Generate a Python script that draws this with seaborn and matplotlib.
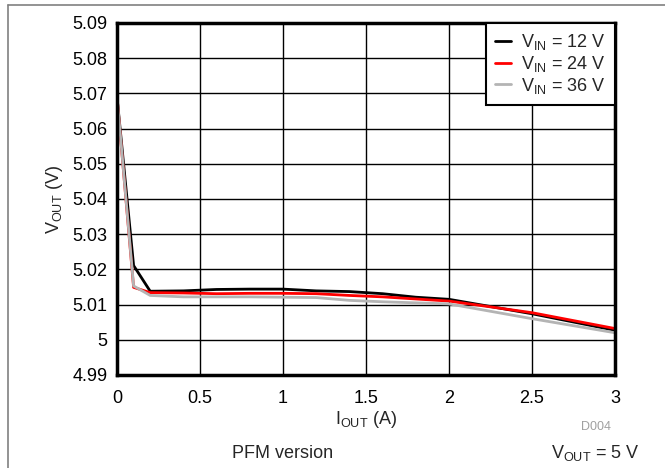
import matplotlib
matplotlib.use("Agg")
import matplotlib.pyplot as plt
import seaborn as sns
import pandas as pd
from matplotlib.lines import Line2D

iout = [0, 0.1, 0.2, 0.4, 0.6, 0.8, 1.0, 1.2, 1.4, 1.6, 1.8, 2.0, 2.5, 3.0]
v12 = [5.069, 5.0211, 5.0138, 5.0139, 5.0143, 5.0144, 5.0144, 5.0139, 5.0137, 5.0131, 5.0121, 5.0115, 5.0074, 5.0027]
v24 = [5.069, 5.0149, 5.0134, 5.0133, 5.0131, 5.0132, 5.0132, 5.0131, 5.0126, 5.0122, 5.0116, 5.0110, 5.0077, 5.0032]
v36 = [5.069, 5.0153, 5.0126, 5.0122, 5.0122, 5.0122, 5.0121, 5.0120, 5.0112, 5.0108, 5.0105, 5.0102, 5.0060, 5.0020]
series_labels = [r'V$_{\mathregular{IN}}$ = 12 V', r'V$_{\mathregular{IN}}$ = 24 V', r'V$_{\mathregular{IN}}$ = 36 V']
colors = ['#000000', '#ff0000', '#b4b4b4']
xticks = [0, 0.5, 1, 1.5, 2, 2.5, 3]
xtick_labels = ['0', '0.5', '1', '1.5', '2', '2.5', '3']
yticks = [4.99, 5.0, 5.01, 5.02, 5.03, 5.04, 5.05, 5.06, 5.07, 5.08, 5.09]
ytick_labels = ['4.99', '5', '5.01', '5.02', '5.03', '5.04', '5.05', '5.06', '5.07', '5.08', '5.09']

sns.set_style("white")
plt.rcParams['font.family'] = ['Liberation Sans', 'DejaVu Sans']
plt.rcParams['mathtext.fontset'] = 'custom'
plt.rcParams['mathtext.rm'] = 'Liberation Sans'
plt.rcParams['mathtext.it'] = 'Liberation Sans'

FS = 13

df = pd.DataFrame({
    'I': iout * 3,
    'V': v12 + v24 + v36,
    'S': [series_labels[0]] * len(iout) + [series_labels[1]] * len(iout) + [series_labels[2]] * len(iout),
})

fig = plt.figure(figsize=(6.65, 4.68), dpi=100)
ax = fig.add_axes([117 / 665, 1 - 375 / 468, (615 - 117) / 665, (375 - 23) / 468])

sns.lineplot(data=df, x='I', y='V', hue='S', palette=colors, hue_order=series_labels,
             linewidth=2, ax=ax, legend=False, sort=False)

ax.set_xlim(0, 3)
ax.set_ylim(4.99, 5.09)
ax.set_xticks(xticks)
ax.set_xticklabels(xtick_labels)
ax.set_yticks(yticks)
ax.set_yticklabels(ytick_labels)
ax.tick_params(axis='both', labelsize=FS, length=0, colors='black')
ax.tick_params(axis='x', pad=11)
ax.tick_params(axis='y', pad=7)
ax.grid(True, color='black', linewidth=1)
for sp in ax.spines.values():
    sp.set_visible(True)
    sp.set_color('black')
    sp.set_linewidth(2.5)

ax.set_xlabel(r'I$_{\mathregular{OUT}}$ (A)', fontsize=FS, labelpad=1)
ax.set_ylabel(r'V$_{\mathregular{OUT}}$ (V)', fontsize=FS, labelpad=5)

handles = [Line2D([0], [0], color=c, linewidth=2) for c in colors]
leg = ax.legend(handles, series_labels, loc='upper right', fontsize=FS, frameon=True,
                fancybox=False, framealpha=1, edgecolor='black', borderaxespad=0,
                handlelength=0.9, handletextpad=0.55, labelspacing=0.1, borderpad=0.5)
leg.get_frame().set_linewidth(1.5)

fig.text(596 / 665, 1 - 427 / 468, 'D004', fontsize=9, color='#a0a0a0', ha='center', va='center')
fig.text(283 / 665, 1 - 453 / 468, 'PFM version', fontsize=FS, ha='center', va='center')
fig.text(595 / 665, 1 - 453 / 468, r'V$_{\mathregular{OUT}}$ = 5 V', fontsize=FS, ha='center', va='center')

fig.add_artist(Line2D([8 / 665, 1], [1 - 5 / 468, 1 - 5 / 468], color='#808080', linewidth=1.2, transform=fig.transFigure))
fig.add_artist(Line2D([8 / 665, 8 / 665], [1 - 5 / 468, 0], color='#808080', linewidth=1.2, transform=fig.transFigure))

fig.savefig('out.png', dpi=100)
